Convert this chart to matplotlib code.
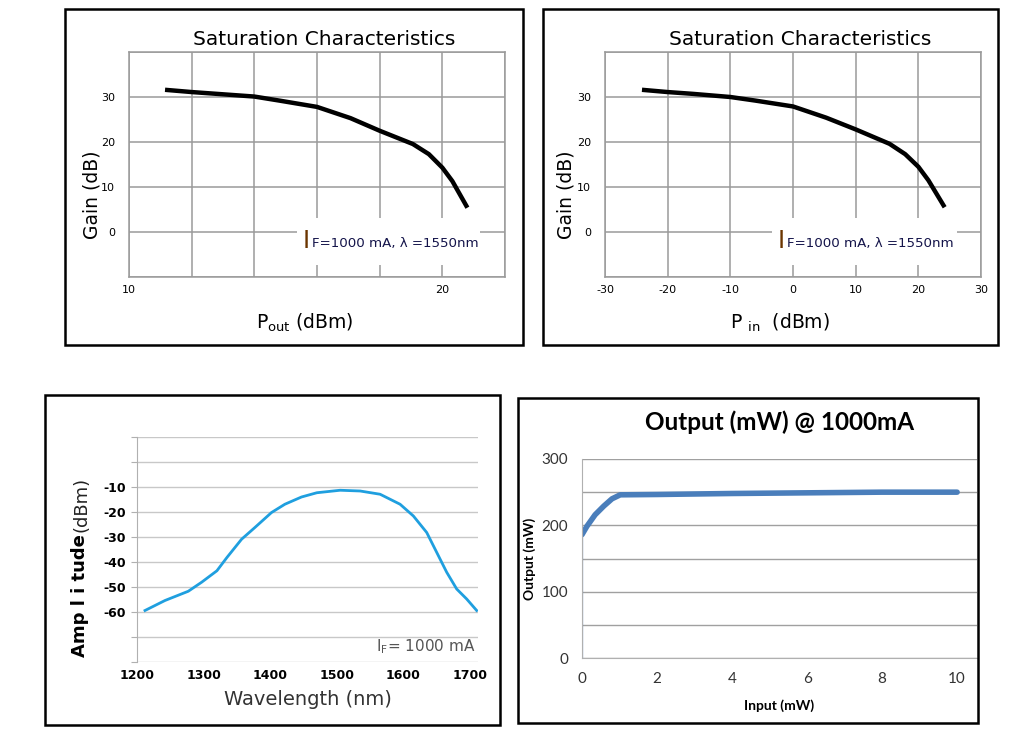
import numpy as np
import matplotlib.pyplot as plt
from matplotlib.patches import Rectangle

W, H = 1035, 743

# saturation characteristics: gain vs output power
pout_dbm = [11.15, 12.0, 12.8, 14.0, 14.8, 16.0, 17.07, 18.0, 19.06, 19.57, 20.0, 20.32, 20.8]
gain_pout_db = [31.6, 31.1, 30.7, 30.1, 29.2, 27.8, 25.3, 22.5, 19.55, 17.3, 14.3, 11.3, 5.4]

# saturation characteristics: gain vs input power
pin_dbm = [-24.1, -20.0, -16.0, -10.0, -6.0, 0.0, 5.3, 10.0, 15.4, 17.9, 20.0, 21.6, 24.2]
gain_pin_db = [31.6, 31.1, 30.7, 30.0, 29.2, 27.9, 25.4, 22.8, 19.6, 17.3, 14.5, 11.5, 5.5]

# ASE spectrum
wavelength_nm = [1212, 1242, 1277, 1297, 1320, 1335, 1357, 1377, 1402, 1422, 1447, 1470,
                 1505, 1535, 1565, 1595, 1615, 1635, 1645, 1655, 1665, 1680, 1695, 1710]
amplitude_dbm = [-59.4, -55.4, -51.7, -48.1, -43.5, -38.2, -30.9, -26.2, -20.2, -16.9, -14.0,
                 -12.3, -11.3, -11.6, -12.9, -16.9, -21.6, -28.2, -33.5, -38.8, -44.1, -50.8,
                 -54.8, -59.4]
amp_ticks = [-80, -70, -60, -50, -40, -30, -20, -10, 0, 10]
amp_labels = ['', '', '-60', '-50', '-40', '-30', '-20', '-10', '', '']
wl_ticks = [1200, 1300, 1400, 1500, 1600, 1700]

# output vs input at 1000 mA
input_mw = [0, 0, 0.13, 0.35, 0.58, 0.8, 1.02, 2, 4, 6, 8, 10]
output_mw = [0, 186, 198.5, 216, 229, 240, 246, 246.5, 248, 249, 250, 250]
out_ticks = [0, 50, 100, 150, 200, 250, 300]
out_labels = ['0', '', '100', '', '200', '', '300']
in_ticks = [0, 2, 4, 6, 8, 10]

sat_xticks1 = [10, 12, 14, 16, 18, 20, 22]
sat_xlabels1 = ['10', '', '', '', '', '20', '']
sat_xticks2 = [-30, -20, -10, 0, 10, 20, 30]
sat_yticks = [-10, 0, 10, 20, 30, 40]
sat_ylabels = ['', '0', '10', '20', '30', '']


def ax_at(x0, y0, x1, y1):
    # pixel box (top-left origin) -> figure axes
    return fig.add_axes([x0 / W, 1 - y1 / H, (x1 - x0) / W, (y1 - y0) / H])


def frame(x0, y0, x1, y1):
    fig.patches.append(Rectangle((x0 / W, 1 - y1 / H), (x1 - x0) / W, (y1 - y0) / H,
                                 transform=fig.transFigure, fill=False, ec='black', lw=1.8))


fig = plt.figure(figsize=(W / 100, H / 100), dpi=100)

frame(65, 9, 523, 345)
frame(543, 9, 998, 345)
frame(45, 395, 500, 725)
frame(518, 398, 978, 723)


def saturation(ax, x, y, xlim, xticks, xlabels, xlabel, lab_x, ylab_x, box):
    ax.plot(x, y, color='black', lw=3.2, solid_capstyle='butt', zorder=3)
    ax.set_xlim(*xlim)
    ax.set_ylim(-10, 40)
    ax.set_xticks(xticks, xlabels)
    ax.set_yticks(sat_yticks, sat_ylabels)
    ax.grid(True, color='#9a9a9a', lw=1.1)
    for s in ax.spines.values():
        s.set_color('#9a9a9a')
        s.set_linewidth(1.1)
    ax.tick_params(length=0, labelsize=8, pad=6)
    ax.tick_params(axis='y', pad=10)
    ax.set_title('Saturation Characteristics', fontsize=14.5, pad=5, x=0.52)
    ax.text(ylab_x, 0.364, 'Gain (dB)', fontsize=13.5, rotation=90, ha='center',
            va='center', transform=ax.transAxes)
    ax.text(lab_x, -0.204, xlabel, fontsize=13.5, ha='center', va='center',
            transform=ax.transAxes)
    # white patch behind the condition note
    span = xlim[1] - xlim[0]
    ax.add_patch(Rectangle((box[0], -7.3), box[1] - box[0], 10.4, fc='white', ec='none',
                           zorder=2))
    ax.text(box[0] + 0.015 * span, -2.0, 'I', fontsize=17,
            color='#6b3500', va='center', ha='left', zorder=4)
    ax.text(box[0] + 0.041 * span, -2.6, 'F=1000 mA, λ =1550nm', fontsize=9.6,
            color='#14144a', va='center', ha='left', zorder=4)


ax1 = ax_at(129, 52, 505, 277)
saturation(ax1, pout_dbm, gain_pout_db, (10, 22), sat_xticks1, sat_xlabels1,
           r'P$_{\mathregular{out}}$ (dBm)', 0.468, -0.098, (15.36, 21.2))

ax2 = ax_at(605, 52, 981, 277)
saturation(ax2, pin_dbm, gain_pin_db, (-30, 30), sat_xticks2,
           [str(t) for t in sat_xticks2], r'P $_{\mathregular{in}}$  (dBm)', 0.465, -0.104,
           (-3.35, 26.2))

# spectrum
ax3 = ax_at(137, 437, 478, 662)
ax3.plot(wavelength_nm, amplitude_dbm, color='#1f9fdf', lw=2.0)
ax3.set_xlim(1200, 1712)
ax3.set_ylim(-80, 10)
ax3.set_yticks(amp_ticks, amp_labels)
ax3.set_xticks(wl_ticks)
ax3.grid(True, axis='y', color='#c8c8c8', lw=1.0)
for k in ['top', 'right', 'bottom']:
    ax3.spines[k].set_visible(False)
ax3.spines['left'].set_color('#b0b0b0')
ax3.tick_params(axis='y', length=4, color='#b0b0b0', labelsize=9, pad=4)
ax3.tick_params(axis='x', length=0, labelsize=9, pad=5)
for lab in ax3.get_xticklabels() + ax3.get_yticklabels():
    lab.set_fontweight('bold')
ax3.set_xlabel('Wavelength (nm)', fontsize=14, color='#333333', labelpad=6)
ax3.text(1708, -74, r'I$_\mathregular{F}$= 1000 mA', fontsize=11, color='#555555',
         ha='right', va='center')
fig.text(80 / W, 1 - 596 / H, 'Amp l i tude', rotation=90, fontsize=13, fontweight='bold',
         ha='center', va='center')
fig.text(81 / W, 1 - 504 / H, '(dBm)', rotation=90, fontsize=13, color='#222222',
         ha='center', va='center')

# output vs input
narrow = ['Lato', 'DejaVu Sans']
ax4 = ax_at(582, 459, 977, 658)
ax4.plot(input_mw[:2], output_mw[:2], color='#4a7ebb', lw=1.6)
ax4.plot(input_mw[1:], output_mw[1:], color='#4a7ebb', lw=4.0, solid_capstyle='round')
ax4.set_xlim(0, 10.53)
ax4.set_ylim(0, 300)
ax4.set_yticks(out_ticks, out_labels)
ax4.set_xticks(in_ticks)
ax4.grid(True, axis='y', color='#a0a0a0', lw=1.0)
for k in ['top', 'right']:
    ax4.spines[k].set_visible(False)
for k in ['left', 'bottom']:
    ax4.spines[k].set_color('#b0b0b0')
ax4.tick_params(length=0, labelsize=11, labelcolor='#333333', pad=10)
for lab in ax4.get_xticklabels() + ax4.get_yticklabels():
    lab.set_family(narrow)
ax4.set_xlabel('Input (mW)', fontsize=10, fontweight='bold', family=narrow, labelpad=10)
ax4.set_ylabel('Output (mW)', fontsize=10, fontweight='bold', family=narrow, labelpad=4)
fig.text(780 / W, 1 - 422 / H, 'Output (mW) @ 1000mA', fontsize=17.5, fontweight='bold',
         family=narrow, ha='center', va='center')

fig.savefig('out.png', dpi=100)
